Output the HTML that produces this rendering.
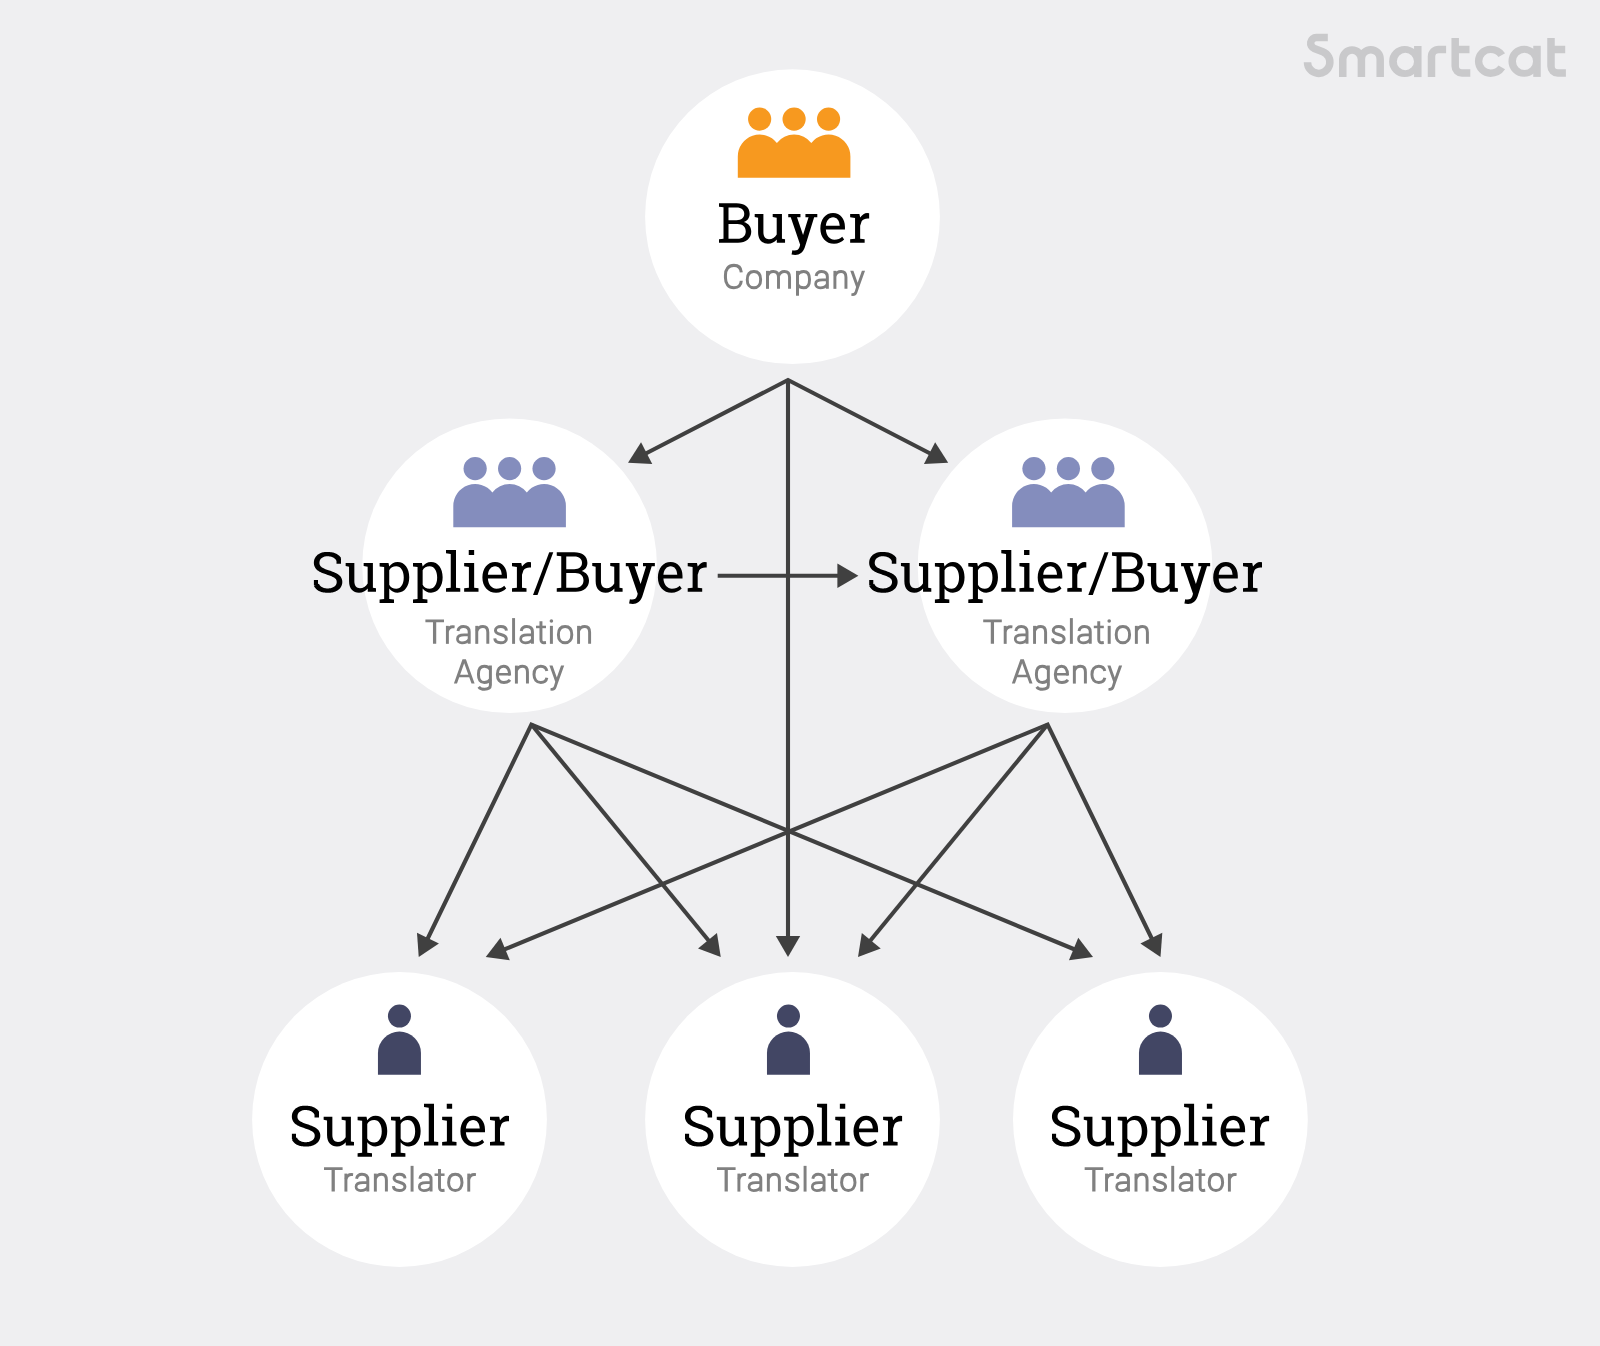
<!DOCTYPE html>
<html lang="en">
<head>
<meta charset="utf-8">
<title>Smartcat supply chain diagram</title>
<style>
  html, body { margin: 0; padding: 0; width: 1600px; height: 1346px; overflow: hidden; background: #efeff1; }
  svg { display: block; position: absolute; left: 0; top: 0; }
  .t { fill: none; stroke: none; }
</style>
</head>
<body>
<svg width="1600" height="1346" viewBox="0 0 1600 1346">
  <defs>
    <g id="person">
      <circle cx="0" cy="-58.65" r="11.52"/>
      <path d="M-21.5 0V-21.6A21.5 21.5 0 0 1 21.5 -21.6V0Z"/>
    </g>
    <g id="group">
      <circle cx="-34.45" cy="-58.62" r="11.6"/>
      <circle cx="0" cy="-58.62" r="11.6"/>
      <circle cx="34.45" cy="-58.62" r="11.6"/>
      <path d="M-56.30 0V-21.25A21.85 21.85 0 0 1 -17.225 -34.693A21.85 21.85 0 0 1 17.225 -34.693A21.85 21.85 0 0 1 56.30 -21.25V0Z"/>
    </g>
    <path id="ah" d="M 0 0 L -21 -12.2 L -21 12.2 Z"/>
    <path id="gl" fill-rule="evenodd" d="M0 -41.75H10V-4.1L14.25 -3.5V0H0V-3.5L4.75 -4.1V-37.8L0 -38.5Z"/>
    <path id="gi" fill-rule="evenodd" d="M0 -28.75H10V-4.1L14.35 -3.5V0H0V-3.5L4.75 -4.1V-24.8L0 -25.5Z M4.6 -41.75H10V-36.75H4.6Z"/>
    <path id="gr" fill-rule="evenodd" d="M0 -28.75H9.25L10 -25.25C12 -27.9 14.5 -29.75 17 -29.75L19 -29.5V-24.25C16 -24.6 13 -24 11.5 -21.5L10 -17V-4.1L14.5 -3.5V0H0V-3.5L4.9 -4.1V-24.8L0 -25.5Z"/>
    <path id="gu" fill-rule="evenodd" d="M0 -28.75H8.7V-10.5C8.7 -6 11 -3.6 14.3 -3.6C17.5 -3.6 20.3 -5.3 22 -8.3V-25.1L18 -25.75V-28.75H27.25V-4.1L30.35 -3.5V0H22.1V-3.3C20 -0.7 17 1 13.3 1C7.5 1 3.4 -3 3.4 -10.5V-25.1L0 -25.75Z"/>
    <path id="gp" fill-rule="evenodd" d="M0 -28.75H8.9L9.65 -25.25C11.5 -28 14.5 -29.75 18 -29.75C25 -29.75 29.65 -23.5 29.65 -14.4C29.65 -5.5 25 1 18 1C14.5 1 11.5 -0.7 9.65 -3.3V7.15L14.4 7.75V11.25H0V7.75L4.55 7.15V-24.8L0 -25.25ZM9.65 -21.5C10.8 -24 13.5 -25.5 16.6 -25.5C21.3 -25.5 24.15 -20.8 24.15 -14.3C24.15 -7.7 21.3 -3 16.6 -3C13.5 -3 10.8 -4.5 9.65 -7Z"/>
    <path id="ge" fill-rule="evenodd" d="M24.6 -13.15H5.5C5.9 -7 9.5 -3 14 -3C17.3 -3 20 -4.2 21.85 -6L23.8 -3.2C21.3 -0.6 17.8 1 13.7 1C5.5 1 0 -5.3 0 -14.3C0 -23.5 5.3 -29.75 12.7 -29.75C20 -29.75 24.6 -24 24.6 -16ZM5.5 -17H19.35C19.1 -22 16.7 -25.5 12.7 -25.5C8.8 -25.5 6 -22 5.5 -17Z"/>
    <path id="gB" fill-rule="evenodd" d="M0 -39.5H17.5C25.5 -39.5 30.65 -35.5 30.65 -29C30.65 -25 28.5 -22 24.8 -20.8C29.5 -19.5 32.25 -16 32.25 -11C32.25 -4.5 27 0 19 0H0V-3.5L4.5 -4.1V-35.4L0 -36ZM9.5 -35.25H17.5C22.5 -35.25 25.25 -32.8 25.25 -28.9C25.25 -25 22.5 -22.5 17.5 -22.5H9.5ZM9.5 -18.75H18.5C23.5 -18.75 26.75 -16 26.75 -11.3C26.75 -6.8 23.5 -4 18.5 -4H9.5Z"/>
    <path id="gy" fill-rule="evenodd" d="M0 -28.75H12.2V-25.6H8.75L14.8 -7.8L20.3 -25.6H17.2V-28.75H29.05V-25.6H25.9L18 0L16.4 5C14.8 9.5 11.5 12.2 7 12.2L3.3 11.8L4.1 7.6C8.5 8.3 10.2 7 11.3 4.2L11.9 1.9L2.5 -25.6H0Z"/>
    <path id="gslash" fill-rule="evenodd" d="M0 3.25H4.5L20.25 -39.5H16.25Z"/>
    <g id="gS"><path d="M27.38 -33.59L27.01 -34.17L26.61 -34.73L26.18 -35.25L25.72 -35.74L25.23 -36.20L24.72 -36.62L24.20 -37.01L23.65 -37.37L23.09 -37.70L22.51 -38.01L21.92 -38.28L21.32 -38.53L20.71 -38.76L20.09 -38.96L19.46 -39.13L18.83 -39.29L18.18 -39.42L17.53 -39.53L16.87 -39.62L16.21 -39.69L15.54 -39.75L14.86 -39.78L14.18 -39.80L13.50 -39.80L12.60 -39.80L11.71 -39.75L10.85 -39.67L10.01 -39.56L9.19 -39.40L8.39 -39.20L7.62 -38.96L6.86 -38.68L6.14 -38.36L5.44 -37.99L4.77 -37.59L4.14 -37.14L3.54 -36.65L2.97 -36.12L2.45 -35.55L1.97 -34.94L1.55 -34.29L1.17 -33.61L0.84 -32.90L0.58 -32.16L0.37 -31.39L0.22 -30.61L0.13 -29.81L0.10 -29.00L0.13 -28.13L0.23 -27.28L0.41 -26.45L0.65 -25.66L0.96 -24.91L1.33 -24.20L1.76 -23.53L2.24 -22.91L2.77 -22.35L3.32 -21.83L3.91 -21.35L4.52 -20.91L5.15 -20.50L5.80 -20.12L6.47 -19.76L7.16 -19.43L7.86 -19.11L8.58 -18.80L9.32 -18.50L10.08 -18.22L10.85 -17.94L11.64 -17.66L12.44 -17.38L13.26 -17.11L14.13 -16.82L14.95 -16.54L15.73 -16.25L16.49 -15.97L17.21 -15.69L17.89 -15.40L18.53 -15.11L19.13 -14.82L19.69 -14.52L20.20 -14.22L20.67 -13.91L21.08 -13.60L21.45 -13.29L21.76 -12.98L22.03 -12.68L22.25 -12.38L22.42 -12.09L22.57 -11.80L22.68 -11.51L22.77 -11.22L22.84 -10.91L22.90 -10.58L22.94 -10.21L22.95 -9.80L22.94 -9.36L22.90 -8.95L22.83 -8.55L22.74 -8.18L22.63 -7.82L22.50 -7.47L22.33 -7.13L22.14 -6.79L21.92 -6.46L21.66 -6.13L21.37 -5.82L21.03 -5.50L20.66 -5.20L20.24 -4.92L19.79 -4.65L19.29 -4.40L18.75 -4.16L18.18 -3.96L17.57 -3.77L16.92 -3.62L16.24 -3.49L15.52 -3.39L14.78 -3.33L14.00 -3.30L13.39 -3.32L12.79 -3.36L12.21 -3.42L11.65 -3.51L11.11 -3.61L10.59 -3.73L10.09 -3.87L9.61 -4.02L9.15 -4.19L8.72 -4.38L8.32 -4.58L7.93 -4.79L7.58 -5.02L7.25 -5.25L6.95 -5.50L6.67 -5.75L6.42 -6.01L6.19 -6.28L5.98 -6.55L5.80 -6.83L5.64 -7.11L5.49 -7.40L5.37 -7.70L5.25 -8.01L0.15 -5.99L0.44 -5.37L0.77 -4.77L1.14 -4.20L1.55 -3.67L1.99 -3.16L2.46 -2.69L2.96 -2.25L3.48 -1.84L4.02 -1.46L4.59 -1.11L5.17 -0.80L5.77 -0.51L6.38 -0.25L7.01 -0.01L7.65 0.19L8.31 0.38L8.98 0.54L9.66 0.67L10.36 0.78L11.07 0.87L11.78 0.93L12.51 0.98L13.25 1.00L14.00 1.00L14.95 0.99L15.88 0.96L16.79 0.88L17.68 0.77L18.55 0.63L19.40 0.44L20.22 0.22L21.03 -0.03L21.80 -0.33L22.55 -0.67L23.27 -1.05L23.97 -1.47L24.63 -1.94L25.25 -2.45L25.84 -3.01L26.38 -3.61L26.87 -4.26L27.30 -4.95L27.68 -5.69L27.99 -6.46L28.23 -7.26L28.41 -8.09L28.52 -8.94L28.55 -9.80L28.51 -10.65L28.40 -11.49L28.22 -12.30L27.96 -13.08L27.63 -13.82L27.23 -14.51L26.77 -15.15L26.27 -15.75L25.73 -16.29L25.15 -16.79L24.55 -17.25L23.92 -17.67L23.27 -18.07L22.59 -18.44L21.90 -18.79L21.18 -19.12L20.45 -19.44L19.69 -19.75L18.91 -20.05L18.11 -20.35L17.30 -20.64L16.46 -20.92L15.60 -21.21L14.74 -21.49L13.96 -21.77L13.20 -22.04L12.46 -22.31L11.76 -22.58L11.10 -22.86L10.46 -23.14L9.87 -23.42L9.31 -23.71L8.79 -24.01L8.32 -24.31L7.89 -24.61L7.51 -24.92L7.17 -25.23L6.88 -25.53L6.63 -25.84L6.42 -26.14L6.25 -26.45L6.11 -26.75L5.99 -27.06L5.89 -27.39L5.81 -27.73L5.75 -28.11L5.71 -28.53L5.70 -29.00L5.71 -29.42L5.75 -29.83L5.81 -30.22L5.89 -30.60L5.99 -30.96L6.12 -31.31L6.26 -31.65L6.43 -31.99L6.63 -32.32L6.85 -32.64L7.10 -32.95L7.39 -33.26L7.70 -33.55L8.05 -33.84L8.44 -34.11L8.86 -34.36L9.32 -34.59L9.81 -34.81L10.34 -34.99L10.91 -35.16L11.51 -35.29L12.14 -35.40L12.80 -35.47L13.50 -35.50L14.06 -35.48L14.62 -35.45L15.16 -35.40L15.69 -35.33L16.21 -35.24L16.72 -35.14L17.21 -35.02L17.69 -34.88L18.15 -34.73L18.60 -34.57L19.02 -34.39L19.43 -34.19L19.81 -33.99L20.17 -33.77L20.51 -33.53L20.83 -33.29L21.13 -33.04L21.40 -32.77L21.65 -32.50L21.88 -32.22L22.10 -31.93L22.29 -31.64L22.46 -31.33L22.62 -31.01Z"/><path d="M22.75 -33.5H27.25V-28H22.75Z M0.15 -11.75H4.25V-6.5H0.15Z"/></g>
    <g id="Ro"><path d="M1.5 -9.17C1.5 -14.3 4 -17.3 8.2 -17.3C12.4 -17.3 14.9 -14.3 14.9 -9.17C14.9 -4.05 12.4 -1.05 8.2 -1.05C4 -1.05 1.5 -4.05 1.5 -9.17Z" fill="none" stroke="#808080" stroke-width="2.95" stroke-linecap="butt" stroke-linejoin="round"/></g>
    <g id="Rc"><path d="M14.35 -12.5C13.8 -15.6 11.7 -17.3 8.3 -17.3C4 -17.3 1.5 -14.3 1.5 -9.17C1.5 -4.05 4 -1.05 8.3 -1.05C11.7 -1.05 13.8 -2.8 14.35 -5.8" fill="none" stroke="#808080" stroke-width="2.95" stroke-linecap="butt" stroke-linejoin="round"/></g>
    <g id="Re"><path d="M13.75 -8.0C13.75 -14.4 11.6 -17.3 7.7 -17.3C3.8 -17.3 1.5 -14.2 1.5 -9.3V-8.9C1.5 -4 4 -1.05 8.1 -1.05C10.9 -1.05 12.8 -2 14.1 -3.7" fill="none" stroke="#808080" stroke-width="2.95" stroke-linecap="butt" stroke-linejoin="round"/><path d="M1.6 -9.35H14.2" fill="none" stroke="#808080" stroke-width="2.55" stroke-linecap="butt" stroke-linejoin="round"/></g>
    <g id="Rn"><path d="M1.5 0V-18" fill="none" stroke="#808080" stroke-width="2.95" stroke-linecap="butt" stroke-linejoin="round"/><path d="M1.5 -13C2.8 -16 5 -17.3 7.7 -17.3C10.9 -17.3 12.55 -15.2 12.55 -11.5V0" fill="none" stroke="#808080" stroke-width="2.95" stroke-linecap="butt" stroke-linejoin="round"/></g>
    <g id="Rm"><path d="M1.5 0V-18" fill="none" stroke="#808080" stroke-width="2.95" stroke-linecap="butt" stroke-linejoin="round"/><path d="M1.5 -13C2.7 -16 4.8 -17.3 7.3 -17.3C10.7 -17.3 12.5 -15.2 12.5 -11.5V0" fill="none" stroke="#808080" stroke-width="2.95" stroke-linecap="butt" stroke-linejoin="round"/><path d="M12.5 -12.6C13.6 -15.9 15.8 -17.3 18.4 -17.3C21.8 -17.3 23.55 -15.2 23.55 -11.5V0" fill="none" stroke="#808080" stroke-width="2.95" stroke-linecap="butt" stroke-linejoin="round"/></g>
    <g id="Rr"><path d="M1.5 0V-18" fill="none" stroke="#808080" stroke-width="2.95" stroke-linecap="butt" stroke-linejoin="round"/><path d="M1.5 -12.6C2.5 -15.8 4.4 -17.15 6.9 -17.15L8.7 -16.95" fill="none" stroke="#808080" stroke-width="2.95" stroke-linecap="butt" stroke-linejoin="round"/></g>
    <g id="Rl"><path d="M0 -25.75H2.95V0H0Z" fill="#808080"/></g>
    <g id="Ri"><path d="M0 -18H3V0H0Z" fill="#808080"/><circle cx="1.5" cy="-22.85" r="1.8" fill="#808080"/></g>
    <g id="Rt"><path d="M4.95 -22.6V-4.3C4.95 -2.1 6.1 -1.15 8 -1.15L10 -1.4" fill="none" stroke="#808080" stroke-width="2.95" stroke-linecap="butt" stroke-linejoin="round"/><path d="M0 -16.9H10" fill="none" stroke="#808080" stroke-width="2.5" stroke-linecap="butt" stroke-linejoin="round"/></g>
    <g id="RT"><path d="M0 -24.25H18.6V-21.7H0Z M7.57 -24.25H10.83V0H7.57Z" fill="#808080"/></g>
    <g id="RA"><path d="M0 0L8.6 -24.45H12L20.7 0H17.6L10.3 -20.47L3.1 0Z M4.6 -8.85H16.1V-6.45H4.6Z" fill="#808080"/></g>
    <g id="RC"><path d="M17.4 -16.5C17.1 -21 14.4 -23.5 10 -23.5C4.6 -23.5 1.55 -19.6 1.55 -13.6V-11.1C1.55 -5.1 4.6 -1.15 10 -1.15C14.4 -1.15 17.1 -3.7 17.4 -8.1" fill="none" stroke="#808080" stroke-width="3.05" stroke-linecap="butt" stroke-linejoin="round"/></g>
    <g id="Rs"><path d="M13.2 -13.2C12.9 -15.9 10.6 -17.3 7.5 -17.3C4.3 -17.3 2.2 -15.7 2.2 -13.4C2.2 -11 4.2 -10.2 7.6 -9.3C11 -8.4 13.1 -7.3 13.1 -4.8C13.1 -2.4 10.8 -1.05 7.5 -1.05C4.2 -1.05 1.7 -2.6 1.5 -5.4" fill="none" stroke="#808080" stroke-width="2.95" stroke-linecap="butt" stroke-linejoin="round"/></g>
    <g id="Ra"><path d="M1.95 -12.9C2.6 -15.8 4.6 -17.3 7.4 -17.3C11 -17.3 13.2 -15.4 13.2 -12V0" fill="none" stroke="#808080" stroke-width="2.95" stroke-linecap="butt" stroke-linejoin="round"/><path d="M13.2 -9.0H8.2C3.9 -9.0 1.45 -7.6 1.45 -4.9C1.45 -2.6 3.2 -1.05 6 -1.05C9 -1.05 12 -2.6 13.2 -4.6" fill="none" stroke="#808080" stroke-width="2.7" stroke-linecap="butt" stroke-linejoin="round"/></g>
    <g id="Rp"><path d="M1.5 -18V6.9" fill="none" stroke="#808080" stroke-width="2.95" stroke-linecap="butt" stroke-linejoin="round"/><path d="M1.5 -14C2.8 -16.3 5 -17.3 7.7 -17.3C11.8 -17.3 13.5 -14.2 13.5 -9.5V-8.9C13.5 -4.2 11.8 -1.05 7.7 -1.05C5 -1.05 2.8 -2 1.5 -4.3" fill="none" stroke="#808080" stroke-width="2.95" stroke-linecap="butt" stroke-linejoin="round"/></g>
    <g id="Rg"><path d="M13.4 -18V1.5C13.4 4.5 11 5.75 7.5 5.75C5 5.75 3 5 1.7 3.2" fill="none" stroke="#808080" stroke-width="2.95" stroke-linecap="butt" stroke-linejoin="round"/><path d="M13.4 -14C12.2 -16.3 10 -17.3 7.3 -17.3C3.2 -17.3 1.45 -14.2 1.45 -9.5V-8.9C1.45 -4.2 3.2 -1.05 7.3 -1.05C10 -1.05 12.2 -2 13.4 -4.3" fill="none" stroke="#808080" stroke-width="2.95" stroke-linecap="butt" stroke-linejoin="round"/></g>
    <g id="Ry"><path d="M0 -18H3.15L7.41 -6.16L11.65 -18H14.8L8.36 0L7 3.9C6.2 6.1 4.7 7.1 2.6 7.1L1 6.9L1.25 4.35C3.2 4.6 4 4.1 4.6 2.5L5.84 -1.77Z" fill="#808080"/></g>
  </defs>

  <!-- circles -->
  <g fill="#ffffff">
    <circle cx="792.5" cy="216.7" r="147.4"/>
    <circle cx="509.6" cy="565.75" r="147.35"/>
    <circle cx="1065" cy="565.75" r="147.35"/>
    <circle cx="399.5" cy="1119.5" r="147.4"/>
    <circle cx="792.5" cy="1119.5" r="147.4"/>
    <circle cx="1160.4" cy="1119.5" r="147.4"/>
  </g>

  <!-- connector lines -->
  <g stroke="#404040" stroke-width="4.1" fill="none" stroke-linecap="butt">
    <polyline points="640,456.5 788,380 936,456.5" stroke-linejoin="miter" stroke-miterlimit="10"/>
    <line x1="788" y1="379.5" x2="788" y2="940"/>
    <line x1="717.7" y1="575.8" x2="840" y2="575.8"/>
    <polyline points="427,940 531.4,724.55 1076,950" stroke-linejoin="miter" stroke-miterlimit="10"/>
    <line x1="531.4" y1="724.55" x2="709" y2="941"/>
    <polyline points="1152.5,940 1047.6,724.55 503,950" stroke-linejoin="miter" stroke-miterlimit="10"/>
    <line x1="1047.6" y1="724.55" x2="870" y2="941"/>
  </g>
  <g fill="#404040">
    <use href="#ah" transform="translate(628,462.7) rotate(152.67)"/>
    <use href="#ah" transform="translate(948.2,462.7) rotate(27.33)"/>
    <use href="#ah" transform="translate(788,957) rotate(90)"/>
    <use href="#ah" transform="translate(858.4,575.8) rotate(0)"/>
    <use href="#ah" transform="translate(418.75,957) rotate(115.96)"/>
    <use href="#ah" transform="translate(720.75,957) rotate(50.87)"/>
    <use href="#ah" transform="translate(1093,957) rotate(22.48)"/>
    <use href="#ah" transform="translate(1160.5,957) rotate(64.1)"/>
    <use href="#ah" transform="translate(858,957) rotate(129.26)"/>
    <use href="#ah" transform="translate(485.75,957) rotate(157.55)"/>
  </g>

  <!-- icons -->
  <use href="#group" x="794.1" y="177.7" fill="#f7991f"/>
  <use href="#group" x="509.6" y="527.2" fill="#848dbd"/>
  <use href="#group" x="1068.4" y="527.2" fill="#848dbd"/>
  <use href="#person" x="399.45" y="1074.7" fill="#424664"/>
  <use href="#person" x="788.47" y="1074.7" fill="#424664"/>
  <use href="#person" x="1160.47" y="1074.7" fill="#424664"/>

  <!-- headings (slab glyph outlines) -->
  <g fill="#000000">
    <g transform="translate(719.0,242.75)"><use href="#gB" x="0.00"/><use href="#gu" x="35.70"/><use href="#gy" x="69.25"/><use href="#ge" x="101.35"/><use href="#gr" x="131.15"/></g>
    <g transform="translate(313.75,591.75)"><use href="#gS" x="0.00"/><use href="#gu" x="31.90"/><use href="#gp" x="65.85"/><use href="#gp" x="99.25"/><use href="#gl" x="132.25"/><use href="#gi" x="150.40"/><use href="#ge" x="168.65"/><use href="#gr" x="198.25"/><use href="#gslash" x="219.25"/><use href="#gB" x="243.00"/><use href="#gu" x="278.50"/><use href="#gy" x="312.05"/><use href="#ge" x="344.15"/><use href="#gr" x="373.95"/></g>
    <g transform="translate(869.05,591.75)"><use href="#gS" x="0.00"/><use href="#gu" x="31.90"/><use href="#gp" x="65.85"/><use href="#gp" x="99.25"/><use href="#gl" x="132.25"/><use href="#gi" x="150.40"/><use href="#ge" x="168.65"/><use href="#gr" x="198.25"/><use href="#gslash" x="219.25"/><use href="#gB" x="243.00"/><use href="#gu" x="278.50"/><use href="#gy" x="312.05"/><use href="#ge" x="344.15"/><use href="#gr" x="373.95"/></g>
    <g transform="translate(291.75,1145.5)"><use href="#gS" x="0.00"/><use href="#gu" x="31.90"/><use href="#gp" x="65.85"/><use href="#gp" x="99.25"/><use href="#gl" x="132.25"/><use href="#gi" x="150.40"/><use href="#ge" x="168.65"/><use href="#gr" x="198.25"/></g>
    <g transform="translate(684.85,1145.5)"><use href="#gS" x="0.00"/><use href="#gu" x="31.90"/><use href="#gp" x="65.85"/><use href="#gp" x="99.25"/><use href="#gl" x="132.25"/><use href="#gi" x="150.40"/><use href="#ge" x="168.65"/><use href="#gr" x="198.25"/></g>
    <g transform="translate(1051.85,1145.5)"><use href="#gS" x="0.00"/><use href="#gu" x="31.90"/><use href="#gp" x="65.85"/><use href="#gp" x="99.25"/><use href="#gl" x="132.25"/><use href="#gi" x="150.40"/><use href="#ge" x="168.65"/><use href="#gr" x="198.25"/></g>
  </g>

  <!-- sub labels (Roboto-like glyph outlines) -->
  <g>
    <g transform="translate(723.9,288.85)"><use href="#RC" x="0.00"/><use href="#Ro" x="21.85"/><use href="#Rm" x="42.10"/><use href="#Rp" x="72.10"/><use href="#Ra" x="90.25"/><use href="#Rn" x="109.50"/><use href="#Ry" x="126.35"/></g>
    <g transform="translate(425.4,643.85)"><use href="#RT" x="0.00"/><use href="#Rr" x="20.50"/><use href="#Ra" x="30.60"/><use href="#Rn" x="49.85"/><use href="#Rs" x="67.85"/><use href="#Rl" x="86.70"/><use href="#Ra" x="93.85"/><use href="#Rt" x="110.60"/><use href="#Ri" x="124.50"/><use href="#Ro" x="131.50"/><use href="#Rn" x="151.66"/></g>
    <g transform="translate(453.9,683.6)"><use href="#RA" x="0.00"/><use href="#Rg" x="23.10"/><use href="#Re" x="42.00"/><use href="#Rn" x="61.00"/><use href="#Rc" x="78.60"/><use href="#Ry" x="95.50"/></g>
    <g transform="translate(983.2,643.85)"><use href="#RT" x="0.00"/><use href="#Rr" x="20.50"/><use href="#Ra" x="30.60"/><use href="#Rn" x="49.85"/><use href="#Rs" x="67.85"/><use href="#Rl" x="86.70"/><use href="#Ra" x="93.85"/><use href="#Rt" x="110.60"/><use href="#Ri" x="124.50"/><use href="#Ro" x="131.50"/><use href="#Rn" x="151.66"/></g>
    <g transform="translate(1011.85,683.6)"><use href="#RA" x="0.00"/><use href="#Rg" x="23.10"/><use href="#Re" x="42.00"/><use href="#Rn" x="61.00"/><use href="#Rc" x="78.60"/><use href="#Ry" x="95.50"/></g>
    <g transform="translate(324.0,1191.6)"><use href="#RT" x="0.00"/><use href="#Rr" x="20.40"/><use href="#Ra" x="30.60"/><use href="#Rn" x="49.85"/><use href="#Rs" x="67.85"/><use href="#Rl" x="86.60"/><use href="#Ra" x="93.85"/><use href="#Rt" x="110.55"/><use href="#Ro" x="123.10"/><use href="#Rr" x="143.25"/></g>
    <g transform="translate(717.0,1191.6)"><use href="#RT" x="0.00"/><use href="#Rr" x="20.40"/><use href="#Ra" x="30.60"/><use href="#Rn" x="49.85"/><use href="#Rs" x="67.85"/><use href="#Rl" x="86.60"/><use href="#Ra" x="93.85"/><use href="#Rt" x="110.55"/><use href="#Ro" x="123.10"/><use href="#Rr" x="143.25"/></g>
    <g transform="translate(1084.65,1191.6)"><use href="#RT" x="0.00"/><use href="#Rr" x="20.40"/><use href="#Ra" x="30.60"/><use href="#Rn" x="49.85"/><use href="#Rs" x="67.85"/><use href="#Rl" x="86.60"/><use href="#Ra" x="93.85"/><use href="#Rt" x="110.55"/><use href="#Ro" x="123.10"/><use href="#Rr" x="143.25"/></g>
  </g>

  <!-- text content (unpainted; visible glyphs are drawn as outlines above) -->
  <g class="t" font-family="Liberation Serif, serif" font-size="56.5">
    <text x="719" y="242.75" textLength="150" lengthAdjust="spacingAndGlyphs">Buyer</text>
    <text x="313.75" y="591.75" textLength="393" lengthAdjust="spacingAndGlyphs">Supplier/Buyer</text>
    <text x="869.05" y="591.75" textLength="393" lengthAdjust="spacingAndGlyphs">Supplier/Buyer</text>
    <text x="291.75" y="1145.5" textLength="217" lengthAdjust="spacingAndGlyphs">Supplier</text>
    <text x="684.85" y="1145.5" textLength="217" lengthAdjust="spacingAndGlyphs">Supplier</text>
    <text x="1051.85" y="1145.5" textLength="217" lengthAdjust="spacingAndGlyphs">Supplier</text>
  </g>
  <g class="t" font-family="Liberation Sans, sans-serif" font-size="34">
    <text x="723.9" y="288.85" textLength="141" lengthAdjust="spacingAndGlyphs">Company</text>
    <text x="425.4" y="643.85" textLength="165.7" lengthAdjust="spacingAndGlyphs">Translation</text>
    <text x="453.9" y="683.6" textLength="110.5" lengthAdjust="spacingAndGlyphs">Agency</text>
    <text x="983.2" y="643.85" textLength="165.7" lengthAdjust="spacingAndGlyphs">Translation</text>
    <text x="1011.85" y="683.6" textLength="110.5" lengthAdjust="spacingAndGlyphs">Agency</text>
    <text x="324" y="1191.6" textLength="152" lengthAdjust="spacingAndGlyphs">Translator</text>
    <text x="717" y="1191.6" textLength="152" lengthAdjust="spacingAndGlyphs">Translator</text>
    <text x="1084.65" y="1191.6" textLength="152" lengthAdjust="spacingAndGlyphs">Translator</text>
    <text x="1303" y="77" textLength="263" lengthAdjust="spacingAndGlyphs" font-size="50">Smartcat</text>
  </g>

  <!-- Smartcat wordmark -->
  <g fill="none" stroke="#c9c9cb" stroke-width="7.5" stroke-linecap="butt" stroke-linejoin="round">
    <path d="M 1327.8 37.6 H 1316.26 A 5.6 5.6 0 0 0 1314.22 48.41 L 1322.78 51.75 A 11.2 11.2 0 1 1 1307.5 62.18"/>
    <path d="M 1342.77 77.06 V 59.12 A 9.32 9.32 0 0 1 1361.4 59.12 V 77.06 M 1361.4 59.12 A 9.4 9.4 0 0 1 1380.2 59.12 V 77.06"/>
    <path d="M 1417.8 46 V 77.06"/>
    <path d="M 1431.5 76.9 V 56.6 A 7.2 7.2 0 0 1 1438.7 49.4 H 1446.1"/>
    <path d="M 1455.2 38.1 V 66.25 A 6.75 6.75 0 0 0 1461.95 73 H 1470.3 M 1455.2 49.4 H 1469.5"/>
    <path d="M 1537 45.8 V 76.9"/>
    <path d="M 1551 38.1 V 66.25 A 6.75 6.75 0 0 0 1557.75 73 H 1565.9 M 1551 49.4 H 1565.2"/>
  </g>
  <g fill="#c9c9cb" fill-rule="evenodd">
    <!-- a bowls: outer circle with offset counter -->
    <path d="M 1389.12 61.5 A 15.55 15.55 0 1 0 1420.22 61.5 A 15.55 15.55 0 1 0 1389.12 61.5 Z M 1396.8 61.5 A 8.6 8.6 0 1 1 1414 61.5 A 8.6 8.6 0 1 1 1396.8 61.5 Z"/>
    <path d="M 1508.45 61.3 A 15.55 15.55 0 1 0 1539.55 61.3 A 15.55 15.55 0 1 0 1508.45 61.3 Z M 1515.95 61.35 A 8.55 8.55 0 1 1 1533.05 61.35 A 8.55 8.55 0 1 1 1515.95 61.35 Z"/>
    <!-- c: left semicircle + slightly elongated right side, radial cut terminals -->
    <path d="M 1505.07 53.28 A 17.03 15.6 0 0 0 1490.5 45.7 A 15.6 15.6 0 0 0 1490.5 76.9 A 17.03 15.6 0 0 0 1505.07 69.32 L 1498.46 65.57 A 9.38 8.2 0 0 1 1490.5 69.5 A 8.2 8.2 0 0 1 1490.5 53.1 A 9.38 8.2 0 0 1 1498.46 57.03 Z"/>
  </g>
</svg>
</body>
</html>
